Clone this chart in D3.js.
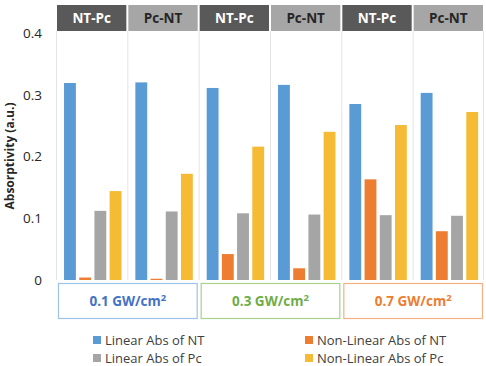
<!DOCTYPE html>
<html>
<head>
<meta charset="utf-8">
<script src="https://cdn.jsdelivr.net/npm/d3@7"></script>
<style>
  body { margin: 0; background: #fff; }
  svg { display: block; font-family: "Open Sans", "Noto Sans", sans-serif; }
</style>
</head>
<body>
<svg id="chart" width="486" height="366"></svg>
<script>
// chart data
const panels = ["NT-Pc", "Pc-NT", "NT-Pc", "Pc-NT", "NT-Pc", "Pc-NT"];
const intensities = ["0.1 GW/cm", "0.3 GW/cm", "0.7 GW/cm"];
const seriesNames = ["Linear Abs of NT", "Non-Linear Abs of NT", "Linear Abs of Pc", "Non-Linear Abs of Pc"];
const linearNT = [0.319, 0.320, 0.311, 0.316, 0.285, 0.303];
const nonLinearNT = [0.004, 0.002, 0.042, 0.019, 0.163, 0.079];
const linearPc = [0.112, 0.111, 0.108, 0.106, 0.105, 0.104];
const nonLinearPc = [0.144, 0.172, 0.216, 0.240, 0.251, 0.272];
const yTicks = [0, 0.1, 0.2, 0.3, 0.4];

const seriesColors = ["#5b9bd5", "#ed7d31", "#a5a5a5", "#f6bb34"];
const groupStroke = ["#9dc3e6", "#a9d18e", "#f4b183"];
const groupText = ["#4472c4", "#70ad47", "#ed7d31"];

const svg = d3.select("#chart");
const allSeries = [linearNT, nonLinearNT, linearPc, nonLinearPc];

const y = d3.scaleLinear().domain([0, 0.4]).range([280, 33]);
const x = d3.scaleBand().domain(d3.range(panels.length)).range([56, 484]);
const xInner = d3.scaleBand().domain(d3.range(4)).range([6.5, 67]).paddingInner(0.22).paddingOuter(0.1);
const xGroup = d3.scaleBand().domain(d3.range(intensities.length)).range([56, 484]);

// panel dividers
svg.append("g")
  .selectAll("line")
  .data(d3.range(panels.length + 1))
  .join("line")
  .attr("x1", i => i < panels.length ? x(i) + 0.5 : 483.5)
  .attr("x2", i => i < panels.length ? x(i) + 0.5 : 483.5)
  .attr("y1", 31)
  .attr("y2", y(0))
  .attr("stroke", "#e4e4e4")
  .attr("stroke-width", 1);

// header boxes
let header = svg.append("g")
  .selectAll("g")
  .data(panels)
  .join("g")
  .attr("transform", (d, i) => `translate(${x(i)},5)`);
header.append("rect")
  .attr("x", 1)
  .attr("width", x.bandwidth() - 2)
  .attr("height", 26)
  .attr("fill", (d, i) => i % 2 === 0 ? "#595959" : "#a6a6a6");
header.append("text")
  .attr("x", x.bandwidth() / 2)
  .attr("y", 18)
  .attr("text-anchor", "middle")
  .attr("font-size", 13.5)
  .attr("font-weight", "bold")
  .attr("fill", (d, i) => i % 2 === 0 ? "#ffffff" : "#262626")
  .text(d => d);

// bars
allSeries.forEach(function(values, s) {
  svg.append("g")
    .selectAll("rect")
    .data(values)
    .join("rect")
    .attr("x", (d, i) => x(i) + xInner(s))
    .attr("width", xInner.bandwidth())
    .attr("y", d => y(d))
    .attr("height", d => y(0) - y(d))
    .attr("fill", seriesColors[s]);
});

// y axis
let yAxis = svg.append("g")
  .attr("transform", "translate(45,0)")
  .call(d3.axisLeft(y).tickValues(yTicks).tickSize(0).tickFormat(d => d === 0 ? "0" : d3.format(".1f")(d)));
yAxis.select(".domain").remove();
yAxis.selectAll("text")
  .attr("font-size", 13.5)
  .attr("font-family", "'Open Sans', sans-serif")
  .attr("fill", "#262626");

svg.append("text")
  .attr("transform", "translate(14,156) rotate(-90)")
  .attr("text-anchor", "middle")
  .attr("font-size", 12)
  .attr("font-weight", "bold")
  .attr("fill", "#262626")
  .text("Absorptivity (a.u.)");

// intensity boxes below the bars
let groups = svg.append("g")
  .selectAll("g")
  .data(intensities)
  .join("g")
  .attr("transform", (d, i) => `translate(${xGroup(i)},0)`);
groups.append("rect")
  .attr("x", 2.5)
  .attr("y", 283.5)
  .attr("width", xGroup.bandwidth() - 4)
  .attr("height", 35)
  .attr("fill", "none")
  .attr("stroke", (d, i) => groupStroke[i])
  .attr("stroke-width", 1.2);
let gText = groups.append("text")
  .attr("x", xGroup.bandwidth() / 2 + 0.5)
  .attr("y", 306)
  .attr("text-anchor", "middle")
  .attr("font-size", 13.5)
  .attr("font-weight", "bold")
  .attr("fill", (d, i) => groupText[i]);
gText.append("tspan").text(d => d);
gText.append("tspan").attr("dy", -5).attr("font-size", 9.5).text("2");

// legend
let legend = svg.append("g")
  .selectAll("g")
  .data(seriesNames)
  .join("g")
  .attr("transform", (d, i) => `translate(${i % 2 === 0 ? 93 : 305},${i < 2 ? 340 : 358})`);
legend.append("rect")
  .attr("y", -4)
  .attr("width", 8)
  .attr("height", 8)
  .attr("fill", (d, i) => seriesColors[i]);
legend.append("text")
  .attr("x", 12)
  .attr("y", 5)
  .attr("font-size", 13)
  .attr("fill", "#404040")
  .text(d => d);
</script>
</body>
</html>
